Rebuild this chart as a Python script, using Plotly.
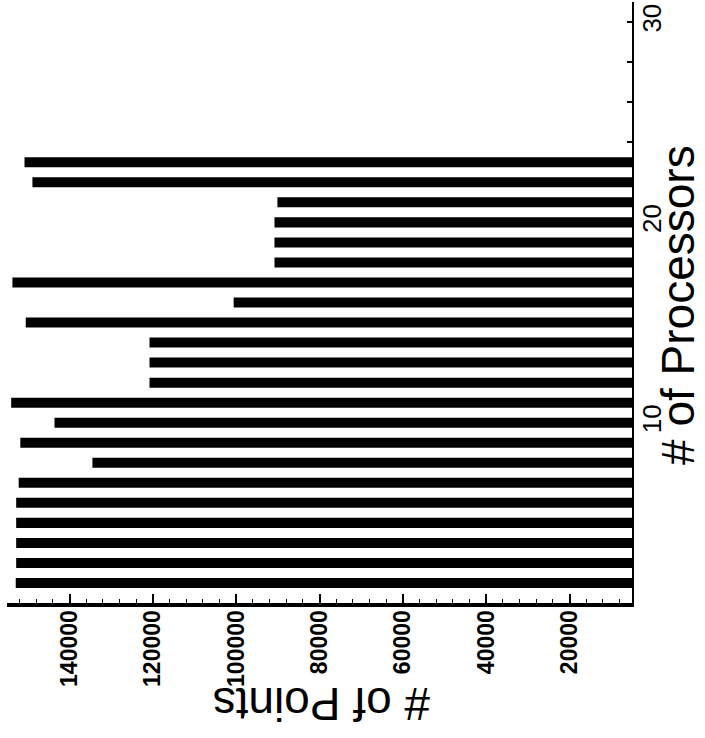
import plotly.graph_objects as go

# Data read from the (rotated) reference chart
processors = [2, 3, 4, 5, 6, 7, 8, 9, 10, 11, 12, 13, 14, 15, 16, 17, 18, 19, 20, 21, 22, 23]
num_points = [152900, 152800, 152800, 152800, 152800, 152200, 134500, 151800, 143600, 154000,
              120800, 120800, 120800, 150500, 100600, 153700, 90800, 90800, 90800, 90100,
              148900, 150800]

x_tick_vals = [20000, 40000, 60000, 80000, 100000, 120000, 140000]
x_tick_text = ["20000", "40000", "60000", "80000", "100000", "120000", "140000"]
y_tick_vals = [10, 20, 30]
y_tick_text = ["10", "20", "30"]

FONT = "Liberation Sans, Arial, Helvetica, sans-serif"

fig = go.Figure(
    go.Bar(
        x=num_points,
        y=processors,
        orientation="h",
        width=0.5,
        marker=dict(color="black", line=dict(width=0)),
    )
)

fig.update_layout(
    width=705,
    height=738,
    margin=dict(l=7, r=73, t=2, b=135),
    paper_bgcolor="white",
    plot_bgcolor="white",
    showlegend=False,
    font=dict(family=FONT, color="black"),
    xaxis=dict(
        range=[155000, 5000],
        tickvals=x_tick_vals,
        ticktext=x_tick_text,
        tickangle=-90,
        ticks="inside",
        ticklen=9,
        tickwidth=1.5,
        tickcolor="black",
        ticklabelstandoff=-6,
        showline=True,
        linewidth=4,
        linecolor="black",
        showgrid=False,
        zeroline=False,
        tickfont=dict(size=23, family=FONT, color="black", weight="bold"),
        minor=dict(dtick=4000, tick0=0, ticks="inside", ticklen=4, tickwidth=1.2, tickcolor="black", showgrid=False),
    ),
    yaxis=dict(
        range=[1, 31],
        side="right",
        tickvals=y_tick_vals,
        ticktext=y_tick_text,
        tickangle=-90,
        ticks="inside",
        ticklen=5,
        tickwidth=1.5,
        tickcolor="black",
        ticklabelstandoff=-4,
        showline=True,
        linewidth=2,
        linecolor="black",
        showgrid=False,
        zeroline=False,
        tickfont=dict(size=26, family=FONT, color="black"),
        minor=dict(dtick=2, tick0=0, ticks="inside", ticklen=5, tickwidth=1.5, tickcolor="black", showgrid=False),
    ),
    annotations=[
        dict(
            text="# of Processors",
            xref="paper", yref="paper",
            x=1.0736, y=0.496,
            xanchor="center", yanchor="middle",
            textangle=-90,
            showarrow=False,
            font=dict(size=46, family=FONT, color="black"),
        ),
        dict(
            text="# of Points",
            xref="paper", yref="paper",
            x=0.504, y=-0.168,
            xanchor="center", yanchor="middle",
            textangle=180,
            showarrow=False,
            font=dict(size=46, family=FONT, color="black"),
        ),
    ],
)

fig.write_html("out.html")
